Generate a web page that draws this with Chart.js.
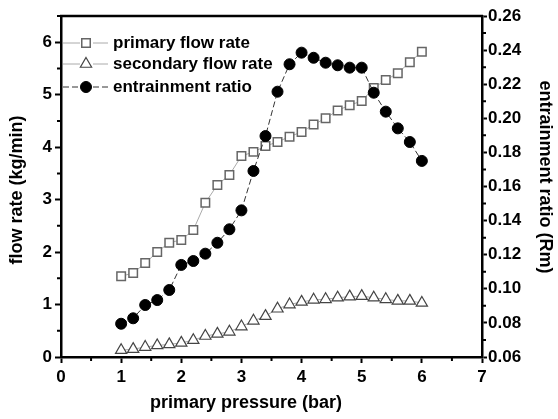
<!DOCTYPE html>
<html>
<head>
<meta charset="utf-8">
<script src="https://cdn.jsdelivr.net/npm/chart.js@4/dist/chart.umd.min.js"></script>
<style>
  body { margin: 0; background: #fff; }
  #wrap { width: 558px; height: 419px; }
</style>
</head>
<body>
<div id="wrap"><canvas id="myChart" width="558" height="419"></canvas></div>
<script>
// primary pressure (bar)
const pressure = [1.0, 1.2, 1.4, 1.6, 1.8, 2.0, 2.2, 2.4, 2.6, 2.8, 3.0, 3.2, 3.4,
                  3.6, 3.8, 4.0, 4.2, 4.4, 4.6, 4.8, 5.0, 5.2, 5.4, 5.6, 5.8, 6.0];
// flow rates (kg/min)
const primaryFlow = [1.54, 1.60, 1.79, 2.00, 2.18, 2.23, 2.42, 2.94, 3.28, 3.47, 3.83, 3.91, 4.02,
                     4.10, 4.20, 4.29, 4.43, 4.55, 4.70, 4.80, 4.88, 5.13, 5.28, 5.41, 5.62, 5.82];
const secondaryFlow = [0.13, 0.15, 0.19, 0.22, 0.24, 0.27, 0.32, 0.40, 0.44, 0.48, 0.58, 0.69, 0.78,
                       0.92, 1.00, 1.05, 1.09, 1.10, 1.13, 1.15, 1.16, 1.13, 1.10, 1.07, 1.07, 1.03];
// entrainment ratio (Rm)
const entrainRatio = [0.0795, 0.0827, 0.0905, 0.0934, 0.0993, 0.1140, 0.1163, 0.1206, 0.1270, 0.1349, 0.1460, 0.1691, 0.1896,
                      0.2156, 0.2317, 0.2385, 0.2355, 0.2326, 0.2311, 0.2297, 0.2297, 0.2150, 0.2039, 0.1941, 0.1861, 0.1750];

const xTicks = [0, 1, 2, 3, 4, 5, 6, 7];
const leftTicks = [0, 1, 2, 3, 4, 5, 6];
const rightTicks = [0.06, 0.08, 0.10, 0.12, 0.14, 0.16, 0.18, 0.20, 0.22, 0.24, 0.26];

const seriesNames = ["primary flow rate", "secondary flow rate", "entrainment ratio"];
const xTitle = "primary pressure (bar)";
const yTitle = "flow rate (kg/min)";
const y2Title = "entrainment ratio (Rm)";

const FONT = "'Liberation Sans', Arial, sans-serif";

function pts(ys) {
    return pressure.map((x, i) => ({ x: x, y: ys[i] }));
}

// minor ticks, top frame line, axis titles and the inset legend
const extras = {
    id: "extras",
    afterDraw(chart) {
        const { ctx, chartArea: a, scales } = chart;
        ctx.save();
        ctx.strokeStyle = "#000";
        ctx.lineWidth = 2.5;
        ctx.beginPath();
        ctx.moveTo(a.left - 1, a.top);
        ctx.lineTo(a.right + 1, a.top);
        ctx.stroke();

        ctx.lineWidth = 2;
        ctx.beginPath();
        for (let i = 0; i < xTicks.length - 1; i++) {
            const px = scales.x.getPixelForValue((xTicks[i] + xTicks[i + 1]) / 2);
            ctx.moveTo(px, a.bottom);
            ctx.lineTo(px, a.bottom + 4);
        }
        for (let i = 0; i < leftTicks.length; i++) {
            const py = scales.y.getPixelForValue(leftTicks[i] + 0.5);
            ctx.moveTo(a.left, py);
            ctx.lineTo(a.left - 4, py);
        }
        for (let i = 0; i < rightTicks.length - 1; i++) {
            const py = scales.y2.getPixelForValue((rightTicks[i] + rightTicks[i + 1]) / 2);
            ctx.moveTo(a.right, py);
            ctx.lineTo(a.right + 4, py);
        }
        ctx.stroke();

        // axis titles
        ctx.fillStyle = "#000";
        ctx.font = "bold 18px " + FONT;
        ctx.textAlign = "center";
        ctx.textBaseline = "middle";
        ctx.fillText(xTitle, 246, 403);
        ctx.save();
        ctx.translate(17, 190);
        ctx.rotate(-Math.PI / 2);
        ctx.fillText(yTitle, 0, 0);
        ctx.restore();
        ctx.save();
        ctx.translate(545, 177);
        ctx.rotate(Math.PI / 2);
        ctx.fillText(y2Title, 0, 0);
        ctx.restore();

        // legend
        const rows = [43, 64, 87];
        chart.data.datasets.forEach(ds => {
            const y = rows[ds.legendRow];
            ctx.strokeStyle = ds.borderColor;
            ctx.lineWidth = 1;
            ctx.setLineDash(ds.borderDash || []);
            ctx.beginPath();
            ctx.moveTo(a.left + 2, y);
            ctx.lineTo(a.left + 19, y);
            ctx.moveTo(a.left + 32, y);
            ctx.lineTo(a.left + 47, y);
            ctx.stroke();
            ctx.setLineDash([]);
            ctx.fillStyle = ds.pointBackgroundColor;
            ctx.strokeStyle = ds.pointBorderColor;
            ctx.lineWidth = ds.pointBorderWidth;
            Chart.helpers.drawPoint(ctx, {
                pointStyle: ds.pointStyle,
                radius: ds.pointRadius,
                borderWidth: ds.pointBorderWidth,
                rotation: 0
            }, a.left + 25, y);
            ctx.fillStyle = "#000";
            ctx.font = "bold 17px " + FONT;
            ctx.textBaseline = "middle";
            ctx.textAlign = "left";
            ctx.fillText(ds.label, a.left + 52, y);
        });
        ctx.restore();
    }
};

const tickFont = { family: FONT, size: 17, weight: "bold" };

const ctx = document.getElementById("myChart").getContext("2d");
new Chart(ctx, {
    type: "line",
    data: {
        datasets: [
            {
                label: seriesNames[2],
                data: pts(entrainRatio),
                yAxisID: "y2",
                order: 0,
                legendRow: 2,
                borderColor: "#333",
                borderWidth: 1,
                borderDash: [6, 3],
                pointStyle: "circle",
                pointRadius: 5.5,
                pointBackgroundColor: "#000",
                pointBorderColor: "#000",
                pointBorderWidth: 1,
                tension: 0
            },
            {
                label: seriesNames[0],
                data: pts(primaryFlow),
                yAxisID: "y",
                order: 1,
                legendRow: 0,
                borderColor: "#aaa",
                borderWidth: 1,
                pointStyle: "rect",
                pointRadius: 6,
                pointBackgroundColor: "#fff",
                pointBorderColor: "#666",
                pointBorderWidth: 1.5,
                tension: 0
            },
            {
                label: seriesNames[1],
                data: pts(secondaryFlow),
                yAxisID: "y",
                order: 2,
                legendRow: 1,
                borderColor: "#aaa",
                borderWidth: 1,
                pointStyle: "triangle",
                pointRadius: 6.5,
                pointBackgroundColor: "#fff",
                pointBorderColor: "#444",
                pointBorderWidth: 1.2,
                tension: 0
            }
        ]
    },
    options: {
        responsive: false,
        animation: false,
        layout: { padding: { top: 16, left: 0, right: 0, bottom: 0 } },
        plugins: {
            legend: { display: false },
            tooltip: { enabled: false }
        },
        scales: {
            x: {
                type: "linear",
                min: 0,
                max: 7,
                afterBuildTicks: s => { s.ticks = xTicks.map(v => ({ value: v })); },
                afterFit: s => { s.height = 62; },
                grid: { drawOnChartArea: false, tickLength: 6, tickWidth: 2, tickColor: "#000" },
                border: { display: true, color: "#000", width: 2.5 },
                ticks: { color: "#000", padding: 4, font: tickFont }
            },
            y: {
                position: "left",
                min: 0,
                max: 6.5,
                afterBuildTicks: s => { s.ticks = leftTicks.map(v => ({ value: v })); },
                afterFit: s => { s.width = 61; },
                grid: { drawOnChartArea: false, tickLength: 6, tickWidth: 2, tickColor: "#000" },
                border: { display: true, color: "#000", width: 2.5 },
                ticks: { color: "#000", padding: 3, font: tickFont }
            },
            y2: {
                position: "right",
                min: 0.06,
                max: 0.26,
                afterBuildTicks: s => { s.ticks = rightTicks.map(v => ({ value: v })); },
                afterFit: s => { s.width = 76; },
                grid: { drawOnChartArea: false, tickLength: 5, tickWidth: 2, tickColor: "#000" },
                border: { display: true, color: "#000", width: 2.5 },
                ticks: {
                    color: "#000",
                    padding: 1,
                    font: tickFont,
                    callback: v => v.toFixed(2)
                }
            }
        }
    },
    plugins: [extras]
});
</script>
</body>
</html>
